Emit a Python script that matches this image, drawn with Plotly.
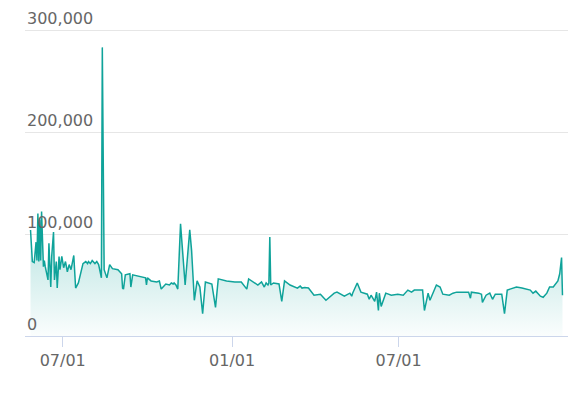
import plotly.graph_objects as go

dates = [
    "2020-05-27", "2020-05-29", "2020-05-31", "2020-06-02", "2020-06-03", "2020-06-04", "2020-06-05", "2020-06-06", "2020-06-07", "2020-06-08",
    "2020-06-10", "2020-06-11", "2020-06-12", "2020-06-15", "2020-06-16", "2020-06-18", "2020-06-19", "2020-06-21", "2020-06-22", "2020-06-24",
    "2020-06-25", "2020-06-27", "2020-06-28", "2020-06-30", "2020-07-02", "2020-07-04", "2020-07-06", "2020-07-08", "2020-07-10", "2020-07-13",
    "2020-07-15", "2020-07-18", "2020-07-23", "2020-07-26", "2020-07-28", "2020-07-29", "2020-07-31", "2020-08-02", "2020-08-05", "2020-08-07",
    "2020-08-09", "2020-08-12", "2020-08-13", "2020-08-15", "2020-08-18", "2020-08-21", "2020-08-24", "2020-08-30", "2020-09-03", "2020-09-04",
    "2020-09-05", "2020-09-07", "2020-09-12", "2020-09-13", "2020-09-15", "2020-09-26", "2020-09-29", "2020-09-30", "2020-10-01", "2020-10-05",
    "2020-10-11", "2020-10-14", "2020-10-16", "2020-10-18", "2020-10-21", "2020-10-25", "2020-10-27", "2020-10-29", "2020-10-30", "2020-11-01",
    "2020-11-03", "2020-11-06", "2020-11-11", "2020-11-16", "2020-11-18", "2020-11-21", "2020-11-24", "2020-11-27", "2020-11-30", "2020-12-03",
    "2020-12-08", "2020-12-10", "2020-12-14", "2020-12-17", "2020-12-26", "2021-01-04", "2021-01-11", "2021-01-17", "2021-01-19", "2021-01-24",
    "2021-01-29", "2021-02-02", "2021-02-05", "2021-02-07", "2021-02-09", "2021-02-10", "2021-02-11", "2021-02-12", "2021-02-15", "2021-02-21",
    "2021-02-24", "2021-02-27", "2021-03-05", "2021-03-13", "2021-03-16", "2021-03-18", "2021-03-21", "2021-03-25", "2021-03-31", "2021-04-07",
    "2021-04-13", "2021-04-22", "2021-04-25", "2021-05-03", "2021-05-09", "2021-05-11", "2021-05-12", "2021-05-17", "2021-05-21", "2021-05-28",
    "2021-05-30", "2021-06-01", "2021-06-05", "2021-06-07", "2021-06-09", "2021-06-10", "2021-06-12", "2021-06-17", "2021-06-23", "2021-06-30",
    "2021-07-06", "2021-07-11", "2021-07-15", "2021-07-18", "2021-07-27", "2021-07-29", "2021-08-02", "2021-08-04", "2021-08-11", "2021-08-15",
    "2021-08-18", "2021-08-25", "2021-08-29", "2021-09-02", "2021-09-09", "2021-09-15", "2021-09-17", "2021-09-18", "2021-09-26", "2021-09-29",
    "2021-09-30", "2021-10-04", "2021-10-08", "2021-10-11", "2021-10-14", "2021-10-21", "2021-10-24", "2021-10-27", "2021-10-30", "2021-11-03",
    "2021-11-06", "2021-11-12", "2021-11-21", "2021-11-24", "2021-11-27", "2021-12-02", "2021-12-05", "2021-12-09", "2021-12-12", "2021-12-16",
    "2021-12-20", "2021-12-21", "2021-12-23", "2021-12-25", "2021-12-26",
]

values = [
    104000, 73000, 72000, 92000, 74000, 120000, 73000, 114000, 74000, 122000,
    68000, 74000, 68000, 55000, 91000, 48000, 78000, 102000, 55000, 73000,
    47000, 78000, 65000, 78000, 67000, 73000, 63000, 70000, 65000, 79000,
    47000, 52000, 71000, 73000, 71000, 73000, 71000, 74000, 71000, 73000,
    70000, 57000, 283000, 65000, 57000, 70000, 66000, 65000, 61000, 47000,
    46000, 60000, 61000, 48000, 60000, 58000, 57000, 50000, 57000, 54000,
    53000, 54000, 46000, 48000, 51000, 50000, 52000, 51000, 52000, 50000,
    46000, 110000, 50000, 104000, 84000, 35000, 54000, 48000, 22000, 53000,
    52000, 51000, 28000, 56000, 54000, 53000, 53000, 46000, 56000, 53000,
    50000, 53000, 48000, 52000, 50000, 52000, 97000, 50000, 52000, 51000,
    34000, 54000, 50000, 47000, 49000, 47000, 47500, 47000, 40000, 41000,
    35000, 42000, 43000, 39000, 42000, 39000, 42000, 52000, 43000, 41000,
    36000, 40000, 34000, 43000, 25000, 42000, 29000, 42000, 40000, 41000,
    40000, 45000, 43000, 45000, 45000, 25000, 42000, 35000, 50000, 48000,
    41000, 40000, 42000, 43000, 43000, 43000, 37000, 43000, 42000, 41000,
    33000, 40000, 42000, 36000, 41000, 41000, 22000, 45000, 46000, 47000,
    48000, 47000, 45000, 42000, 44000, 39000, 38000, 42000, 48000, 48000,
    52000, 54000, 61000, 77000, 40000,
]

x_ticks = ["2020-07-01", "2021-01-01", "2021-07-01"]
y_ticks = [0, 100000, 200000, 300000]

line_color = "#0fa39a"

fig = go.Figure()
fig.add_trace(go.Scatter(
    x=dates, y=values, mode="lines",
    line=dict(color=line_color, width=1.5),
    fill="tozeroy",
    fillgradient=dict(
        type="vertical", start=0, stop=300000,
        colorscale=[[0, "rgba(15,163,154,0.02)"], [0.3, "rgba(15,163,154,0.25)"], [1, "rgba(15,163,154,0.6)"]],
    ),
    hoverinfo="skip",
))

# y-axis labels sit above their gridlines, at the left edge of the plot
for v in y_ticks:
    fig.add_annotation(
        xref="paper", yref="y", x=0, y=v,
        text=f"{v:,}", showarrow=False,
        xanchor="left", yanchor="bottom", yshift=0,
        font=dict(size=16, color="#666666", family="DejaVu Sans"),
    )

fig.update_layout(
    width=581, height=398,
    margin=dict(l=25, r=13, t=28, b=62),
    paper_bgcolor="white", plot_bgcolor="white",
    showlegend=False,
    font=dict(family="DejaVu Sans", size=16, color="#666666"),
)
fig.update_xaxes(
    type="date",
    range=["2020-05-21", "2022-01-01"],
    tickvals=x_ticks, tickformat="%m/%d",
    showgrid=False, zeroline=False,
    showline=True, linecolor="#ccd6eb", linewidth=1,
    ticks="outside", ticklen=10, tickcolor="#ccd6eb", tickwidth=1,
    tickfont=dict(size=16, color="#666666"),
)
fig.update_yaxes(
    range=[0, 302000],
    tickvals=y_ticks, showticklabels=False,
    showgrid=True, gridcolor="#e6e6e6", gridwidth=1,
    zeroline=False, showline=False, ticks="",
)

fig.write_html("out.html")
